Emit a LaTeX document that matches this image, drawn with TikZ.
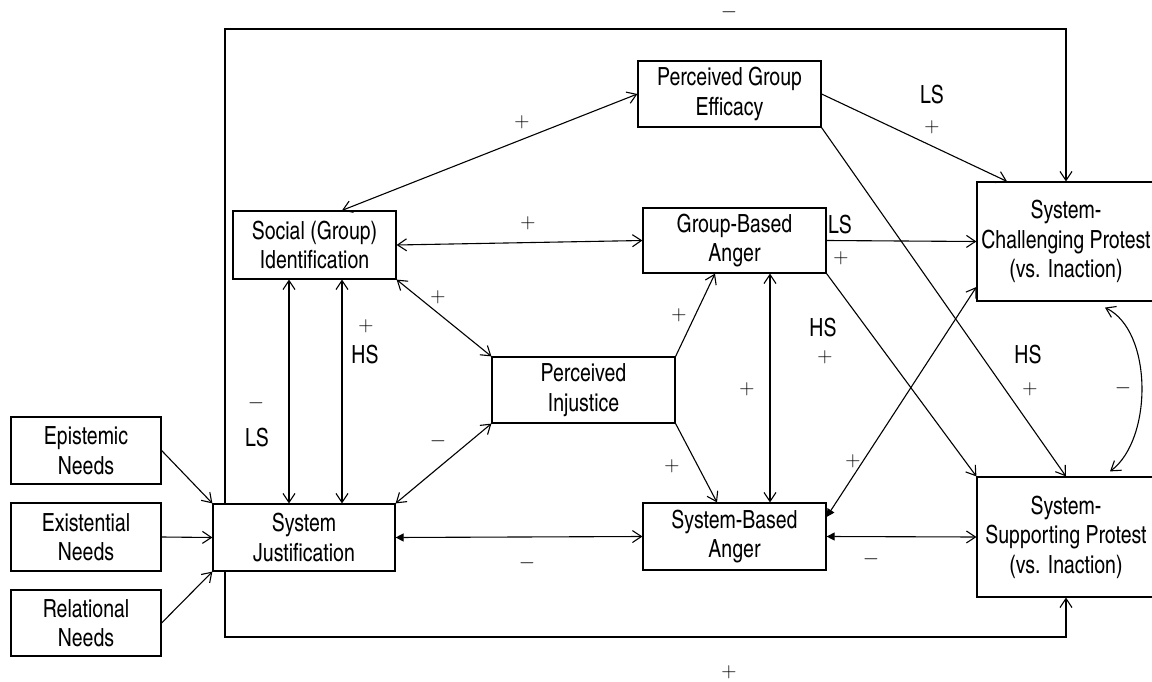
\RequirePackage{fix-cm}
\documentclass[tikz,border=0pt]{standalone}
\usepackage{fontspec}
\setmainfont{texgyreheroscn}[Extension=.otf,UprightFont=*-regular,BoldFont=*-bold,ItalicFont=*-italic,BoldItalicFont=*-bolditalic,FakeStretch=0.95]
\usetikzlibrary{arrows.meta}
\begin{document}
\begin{tikzpicture}[x=1pt,y=-1pt,
  every node/.style={font=\fontsize{25}{29.5}\selectfont},
  box/.style={draw, line width=1.2pt, fill=white, align=center, inner sep=0pt},
  lbl/.style={inner sep=0pt},
  sgn/.style={inner sep=0pt, font=\fontsize{21}{21}\selectfont},
  arr/.style={line width=1.1pt, -{Straight Barb[length=9pt,width=12pt]}},
  dbl/.style={line width=1.1pt, {Straight Barb[length=9pt,width=12pt]}-{Straight Barb[length=9pt,width=12pt]}},
  fdbl/.style={line width=1.1pt, {Triangle[length=8pt,width=8pt]}-{Straight Barb[length=9pt,width=12pt]}}
]
\useasboundingbox (0,0) rectangle (1152,682);
% boxes
\node[box, minimum width=183pt, minimum height=66pt] (pge) at (729.5,94) {Perceived Group\\Efficacy};
\node[box, minimum width=183pt, minimum height=65pt] (gba) at (734.5,240.5) {Group-Based\\Anger};
\node[box, minimum width=183pt, minimum height=67pt] (sba) at (734.5,536.5) {System-Based\\Anger};
\node[box, minimum width=183pt, minimum height=66pt] (inj) at (583.5,390) {Perceived\\Injustice};
\node[box, minimum width=163pt, minimum height=68pt] (soc) at (314.5,245) {Social (Group)\\Identification};
\node[box, minimum width=182pt, minimum height=67pt] (sj) at (304,537.5) {System\\Justification};
\node[box, minimum width=150pt, minimum height=67pt] (epi) at (86,450.5) {Epistemic\\Needs};
\node[box, minimum width=150pt, minimum height=68pt] (exi) at (86,537) {Existential\\Needs};
\node[box, minimum width=150pt, minimum height=66pt] (rel) at (86,623) {Relational\\Needs};
\node[box, minimum width=178pt, minimum height=119pt] (scp) at (1066,241.5) {System-\\Challenging Protest\\(vs. Inaction)};
\node[box, minimum width=178pt, minimum height=120pt] (ssp) at (1066,537) {System-\\Supporting Protest\\(vs. Inaction)};
% connectors
\draw[dbl] ([xshift=27.5pt]soc.north) -- (pge.west);
\draw[dbl] (soc.east) -- (gba.west);
\draw[dbl] (soc.south east) -- (inj.north west);
\draw[dbl] ([xshift=-25.5pt]soc.south) -- ([xshift=-25.5pt]soc.south |- sj.north);
\draw[dbl] ([xshift=27.5pt]soc.south) -- ([xshift=27.5pt]soc.south |- sj.north);
\draw[dbl] (sj.north east) -- (inj.south west);
\draw[arr] (inj.north east) -- ([xshift=-19.5pt]gba.south);
\draw[arr] (inj.south east) -- ([xshift=-17.5pt]sba.north);
\draw[dbl] ([xshift=35.5pt]gba.south) -- ([xshift=35.5pt]sba.north);
\draw[arr] (gba.east) -- (scp.west);
\draw[arr] (gba.south east) -- (ssp.north west);
\draw[arr] (pge.east) -- ([xshift=-59pt]scp.north);
\draw[arr] (pge.south east) -- (ssp.north);
\draw[fdbl] ([yshift=19.5pt]sba.east) -- ([yshift=-45.5pt]scp.west);
\draw[fdbl] (sba.east) -- (ssp.west);
\draw[fdbl] (sj.east) -- (sba.west);
\draw[arr] (epi.east) -- (sj.north west);
\draw[arr] (exi.east) -- (sj.west);
\draw[arr] (rel.east) -- (sj.south west);
\coordinate (top) at (0,29);
\coordinate (bot) at (0,637);
\coordinate (lx) at (225,0);
\draw[arr] (lx |- sj.north) -- (lx |- top) -| (scp.north);
\draw[arr] (lx |- sj.south) -- (lx |- bot) -| (ssp.south);
\draw[dbl] ([xshift=39pt,yshift=-6pt]scp.south) .. controls +(48,23) and +(43,-32) .. ([xshift=44pt,yshift=5pt]ssp.north);
% labels
\node[sgn] (l1) at (729,12) {$-$};
\node[sgn] (l2) at (729,672) {$+$};
\node[sgn] (l3) at (522,122) {$+$};
\node[sgn] (l4) at (528,223) {$+$};
\node[sgn] (l5) at (438,297) {$+$};
\node[sgn] (l6) at (438,441) {$-$};
\node[sgn] (l7) at (256,403) {$-$};
\node[lbl] (l8) at (257,438) {LS};
\node[sgn] (l9) at (366,326) {$+$};
\node[lbl] (l10) at (365,355) {HS};
\node[lbl] (l11) at (932,95) {LS};
\node[sgn] (l12) at (932,127) {$+$};
\node[lbl] (l13) at (840,225) {LS};
\node[sgn] (l14) at (841,258) {$+$};
\node[sgn] (l15) at (679,315) {$+$};
\node[sgn] (l16) at (672,466) {$+$};
\node[sgn] (l17) at (747,389) {$+$};
\node[lbl] (l18) at (823,328) {HS};
\node[sgn] (l19) at (825,357) {$+$};
\node[lbl] (l20) at (1028,355) {HS};
\node[sgn] (l21) at (1030,389) {$+$};
\node[sgn] (l22) at (1123,388) {$-$};
\node[sgn] (l23) at (853,461) {$+$};
\node[sgn] (l24) at (871,559) {$-$};
\node[sgn] (l25) at (527,563) {$-$};
\end{tikzpicture}
\end{document}
